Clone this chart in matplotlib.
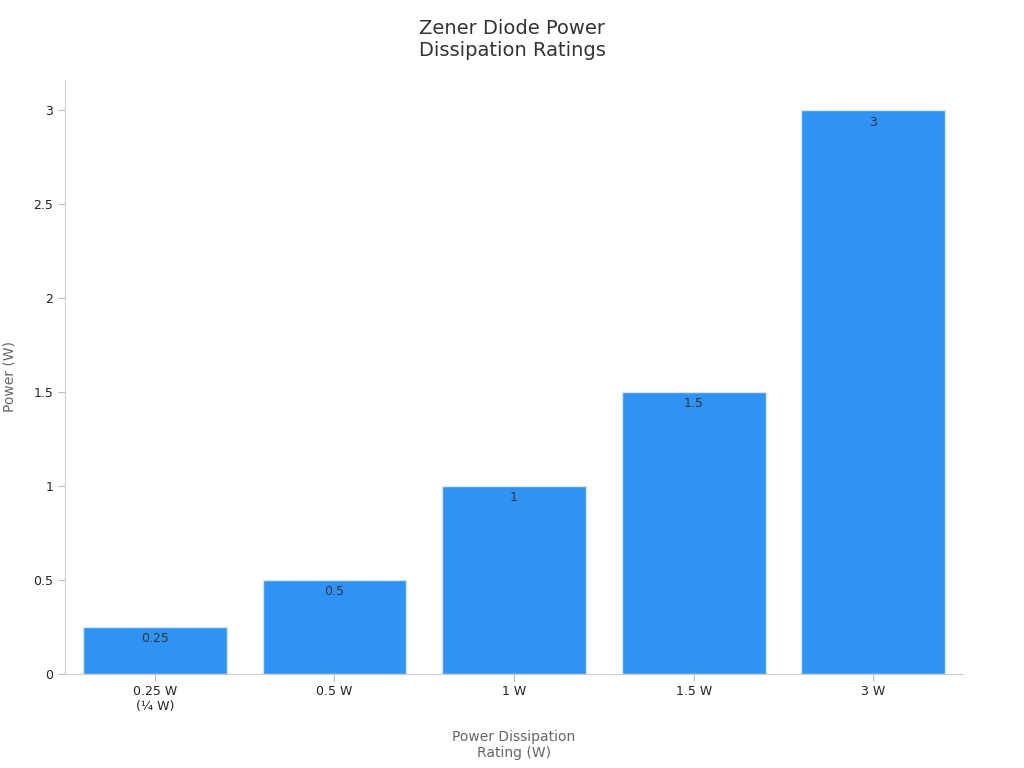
import matplotlib
matplotlib.use("Agg")
import matplotlib.pyplot as plt

categories = ["0.25 W\n(¼ W)", "0.5 W", "1 W", "1.5 W", "3 W"]
power = [0.25, 0.5, 1, 1.5, 3]
value_labels = ["0.25", "0.5", "1", "1.5", "3"]

plt.rcParams['font.family'] = ['DejaVu Sans']
fig = plt.figure(figsize=(10.24, 7.68), dpi=100)
ax = fig.add_axes([0.0635, 0.123, 0.877, 0.773])

x = range(len(categories))
ax.bar(x, power, width=0.8, color="#2E93F5", edgecolor="#D6E6F5", linewidth=1)
for i, (v, lab) in enumerate(zip(power, value_labels)):
    ax.text(i, v - 0.03, lab, ha="center", va="top", fontsize=9, color="#333333")

ax.set_xlim(-0.5, 4.5)
ax.set_ylim(0, 3.16)
ax.set_xticks(list(x))
ax.set_xticklabels(categories, fontsize=9, color="#222222")
ax.set_yticks([0, 0.5, 1, 1.5, 2, 2.5, 3])
ax.set_yticklabels(["0", "0.5", "1", "1.5", "2", "2.5", "3"], fontsize=9, color="#222222")
ax.tick_params(colors="#BBBBBB", labelcolor="#222222", length=5)
for s in ["top", "right"]:
    ax.spines[s].set_visible(False)
for s in ["left", "bottom"]:
    ax.spines[s].set_color("#CCCCCC")

ax.set_xlabel("Power Dissipation\nRating (W)", fontsize=10, color="#666666", labelpad=12)
ax.set_ylabel("Power (W)", fontsize=10, color="#666666", labelpad=12)
fig.suptitle("Zener Diode Power\nDissipation Ratings", fontsize=14, color="#333333", y=0.975)

fig.savefig("out.png", dpi=100)
